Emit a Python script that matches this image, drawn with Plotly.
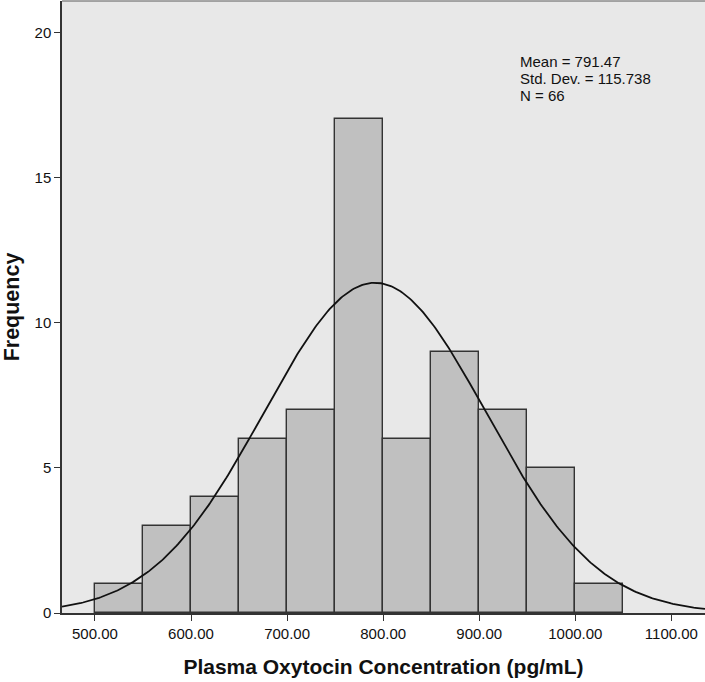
import numpy as np
import plotly.graph_objects as go

bin_starts = [500, 550, 600, 650, 700, 750, 800, 850, 900, 950, 1000]
counts = [1, 3, 4, 6, 7, 17, 6, 9, 7, 5, 1]
bin_width = 50
mean = 791.47
std_dev = 115.738
n_total = 66
x_ticks = [500, 600, 700, 800, 900, 1000, 1100]
x_tick_labels = ["500.00", "600.00", "700.00", "800.00", "900.00", "1000.00", "1100.00"]
y_ticks = [0, 5, 10, 15, 20]
stat_lines = [f"Mean = {mean}", f"Std. Dev. = {std_dev}", f"N = {n_total}"]

centers = [s + bin_width / 2 for s in bin_starts]

xr = [465.7, 1135]
yr = [0, 21.08]
xs = np.linspace(xr[0], xr[1], 400)
ys = n_total * bin_width / (std_dev * np.sqrt(2 * np.pi)) * np.exp(-0.5 * ((xs - mean) / std_dev) ** 2)

fig = go.Figure()
fig.add_trace(go.Bar(
    x=centers, y=counts, width=[bin_width] * len(counts),
    marker=dict(color="#c0c0c0", line=dict(color="#333333", width=1.4)),
    showlegend=False, hoverinfo="skip",
))
fig.add_trace(go.Scatter(
    x=xs, y=ys, mode="lines", line=dict(color="#111111", width=1.8),
    showlegend=False, hoverinfo="skip",
))

# plot area: x 62..705, y 1..613 (pixels)
plot_h = 612.0
for i, line in enumerate(stat_lines):
    yc = 62 + i * 16.7
    fig.add_annotation(
        x=(518 - 62) / 643.0, y=1 - (yc - 1) / plot_h, xref="paper", yref="paper",
        showarrow=False, text=line, xanchor="left", yanchor="middle",
        font=dict(family="Liberation Sans, Arial", size=15, color="#111111"),
    )

fig.add_shape(type="line", xref="paper", yref="paper", x0=0, x1=1, y0=1, y1=1,
              line=dict(color="#8a8a8a", width=1.5))

fig.update_layout(
    width=705, height=682,
    margin=dict(l=62, r=0, t=1, b=69),
    paper_bgcolor="white", plot_bgcolor="#e8e8e8",
    bargap=0,
    font=dict(family="Liberation Sans, Arial", size=15, color="#111111"),
    xaxis=dict(
        range=xr, tickvals=x_ticks, ticktext=x_tick_labels,
        showgrid=False, zeroline=False,
        showline=True, linecolor="#333333", linewidth=1.5,
        ticks="outside", ticklen=6, tickcolor="#333333", tickwidth=1.3,
        tickfont=dict(size=15),
        title=dict(text="<b>Plasma Oxytocin Concentration (pg/mL)</b>", font=dict(size=21), standoff=19),
    ),
    yaxis=dict(
        range=yr, tickvals=y_ticks,
        showgrid=False, zeroline=False,
        showline=True, linecolor="#333333", linewidth=1.5,
        ticks="outside", ticklen=6, tickcolor="#333333", tickwidth=1.3,
        tickfont=dict(size=15),
        title=dict(text="<b>Frequency</b>", font=dict(size=21.5), standoff=9),
    ),
)

fig.write_html("out.html", config={"displayModeBar": False},
               post_script="document.body.style.margin='0';document.body.style.padding='0';")
